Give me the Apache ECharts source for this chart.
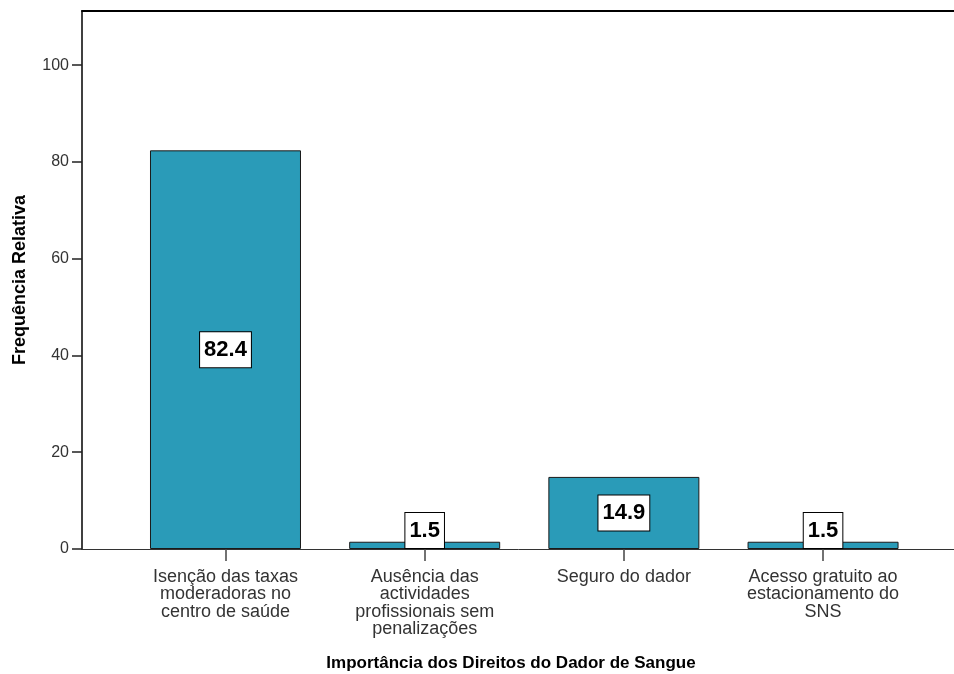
<!DOCTYPE html>
<html>
<head>
<meta charset="utf-8">
<script src="https://cdn.jsdelivr.net/npm/echarts@6/dist/echarts.min.js"></script>
<style>
html,body{margin:0;padding:0;background:#fff;}
#chart{width:954px;height:674px;}
</style>
</head>
<body>
<div id="chart"></div>
<script>
var categories = [
  "Isenção das taxas\nmoderadoras no\ncentro de saúde",
  "Ausência das\nactividades\nprofissionais sem\npenalizações",
  "Seguro do dador",
  "Acesso gratuito ao\nestacionamento do\nSNS"
];
var values = [82.4, 1.5, 14.9, 1.5];
var yTicks = [0, 20, 40, 60, 80, 100];

var font = "Liberation Sans, Arial, sans-serif";
var positions = categories.map(function (c, i) { return i; });

var barData = values.map(function (v, i) {
  return {
    value: [i, v],
    label: { position: v < 5 ? 'insideBottom' : 'inside', distance: 1 }
  };
});

var chart = echarts.init(document.getElementById('chart'));
chart.setOption({
  animation: false,
  backgroundColor: '#fff',
  grid: { left: 82, top: 11, width: 900, bottom: 125, outerBoundsMode: 'none', containLabel: false },
  xAxis: [{
    type: 'value',
    min: -0.7204,
    max: 3.798,
    position: 'bottom',
    splitLine: { show: false },
    axisLine: { show: true, onZero: false, lineStyle: { color: '#333', width: 1 } },
    axisTick: { show: true, customValues: positions, length: 12, lineStyle: { color: '#444', width: 1.5 } },
    axisLabel: {
      show: true,
      customValues: positions,
      formatter: function (v) { return categories[Math.round(v)]; },
      margin: 19,
      fontFamily: font,
      fontSize: 18,
      lineHeight: 17.5,
      color: '#333',
      align: 'center',
      verticalAlign: 'top'
    },
    name: 'Importância dos Direitos do Dador de Sangue',
    nameLocation: 'middle',
    nameGap: 106,
    nameTextStyle: { fontFamily: font, fontSize: 17, fontWeight: 'bold', color: '#000', padding: [0, 42, 0, 0] }
  }, {
    type: 'value',
    min: -0.7204,
    max: 3.798,
    position: 'top',
    splitLine: { show: false },
    axisLine: { show: true, onZero: false, lineStyle: { color: '#000', width: 2 } },
    axisTick: { show: false },
    axisLabel: { show: false }
  }],
  yAxis: {
    type: 'value',
    min: 0,
    max: 111.2,
    splitLine: { show: false },
    axisLine: { show: true, onZero: false, lineStyle: { color: '#000', width: 1.5 } },
    axisTick: { show: true, customValues: yTicks, length: 10, lineStyle: { color: '#222', width: 1.5 } },
    axisLabel: {
      customValues: yTicks,
      margin: 13,
      fontFamily: font,
      fontSize: 16,
      color: '#333'
    },
    name: 'Frequência Relativa',
    nameLocation: 'middle',
    nameGap: 53,
    nameRotate: 90,
    nameTextStyle: { fontFamily: font, fontSize: 18, fontWeight: 'bold', color: '#000' }
  },
  series: [{
    type: 'bar',
    xAxisIndex: 0,
    data: barData,
    barWidth: 151,
    itemStyle: { color: '#2a9bb8', borderColor: '#1a1a1a', borderWidth: 1 },
    label: {
      show: true,
      formatter: function (p) { return p.value[1].toFixed(1); },
      fontFamily: font,
      fontSize: 22,
      fontWeight: 'bold',
      color: '#000',
      lineHeight: 22,
      backgroundColor: '#fff',
      borderColor: '#000',
      borderWidth: 1,
      padding: [7, 4, 6, 4]
    }
  }]
});
</script>
</body>
</html>
